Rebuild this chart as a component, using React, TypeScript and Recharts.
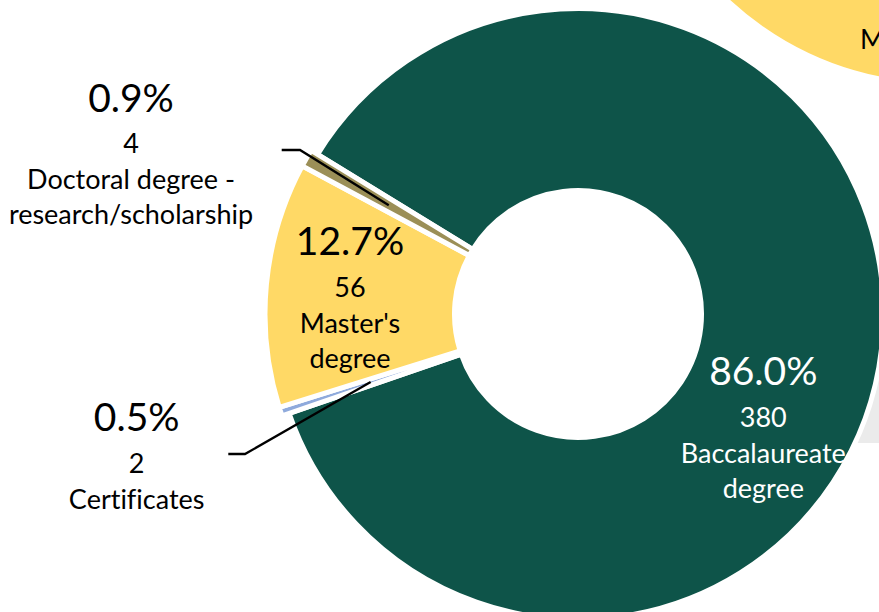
import React from "react";
import { PieChart, Pie, Cell } from "recharts";

// ---- data ----
const categories = [
  "Baccalaureate degree",
  "Certificates",
  "Master's degree",
  "Doctoral degree - research/scholarship",
];
const counts = [380, 2, 56, 4];
const nameLines = [
  ["Baccalaureate", "degree"],
  ["Certificates"],
  ["Master's", "degree"],
  ["Doctoral degree -", "research/scholarship"],
];
const colors = ["#0E5449", "#8FAADC", "#FFD966", "#9B8F57"];

// cropped neighbouring chart visible in the corner
const neighborCategories = ["Master's"];
const neighborCounts = [1];

const total = counts.reduce((a, b) => a + b, 0);
const data = categories.map((name, i) => ({
  name,
  value: counts[i],
  pct: ((counts[i] / total) * 100).toFixed(1) + "%",
  lines: nameLines[i],
}));
const neighborData = neighborCategories.map((name, i) => ({ name, value: neighborCounts[i] }));

// ---- layout ----
const W = 879;
const H = 612;
const CX = 578;
const CY = 314;
const INNER = 123.5;
const OUTER_MAIN = 305.5;
const OUTER_EXPL = 313;
const START = 148.5;
const FONT = "Lato, Carlito, Calibri, sans-serif";
const PCT_SIZE = 39;
const TXT_SIZE = 27;
const RAD = Math.PI / 180;
const textStyle: React.CSSProperties = { fontVariantLigatures: "none" };

// label anchor (baseline of percent line) relative to pie centre
const labelLayout = [
  { dx: 185.3, dy: 71, color: "#ffffff", leader: null as null | number[] },
  { dx: -441.3, dy: 117, color: "#000000", leader: [91.6, 23, 108.3, 23] },
  { dx: -228, dy: -59, color: "#000000", leader: null },
  { dx: -447, dy: -202.3, color: "#000000", leader: [150.7, 38.3, 169, 38.3] },
];

const renderLabel = (props: any) => {
  const { cx, cy, midAngle, innerRadius, outerRadius, index } = props;
  const lay = labelLayout[index];
  const d = data[index];
  if (!lay || !d) return null;
  const x = cx + lay.dx;
  const y = cy + lay.dy;
  let line = null;
  if (lay.leader) {
    const r = (innerRadius + outerRadius) / 2;
    const ex = cx + r * Math.cos(-midAngle * RAD);
    const ey = cy + r * Math.sin(-midAngle * RAD);
    const [sx, sy, kx, ky] = lay.leader;
    line = (
      <polyline
        points={`${x + sx},${y + sy} ${x + kx},${y + ky} ${ex},${ey}`}
        fill="none"
        stroke="#000"
        strokeWidth={2.3}
      />
    );
  }
  return (
    <g key={`lbl-${index}`}>
      {line}
      <text x={x} y={y} textAnchor="middle" fill={lay.color} fontFamily={FONT} fontSize={PCT_SIZE} style={textStyle}>
        {d.pct}
      </text>
      <text x={x} y={y + 41.5} textAnchor="middle" fill={lay.color} fontFamily={FONT} fontSize={TXT_SIZE} style={textStyle}>
        {String(d.value)}
      </text>
      {d.lines.map((t, j) => (
        <text
          key={j}
          x={x}
          y={y + 41.5 + 36 + j * 35}
          textAnchor="middle"
          fill={lay.color}
          fontFamily={FONT}
          fontSize={TXT_SIZE}
          style={textStyle}
        >
          {t}
        </text>
      ))}
    </g>
  );
};

const renderNeighborLabel = (props: any) => {
  const { cx, cy } = props;
  return (
    <text x={cx - 81} y={cy + 277} textAnchor="start" fill="#000" fontFamily={FONT} fontSize={TXT_SIZE} style={textStyle}>
      {neighborData[0].name}
    </text>
  );
};

export default function App() {
  return (
    <div
      style={{
        position: "absolute",
        left: 0,
        top: 0,
        width: W,
        height: H,
        background: "#ffffff",
        overflow: "hidden",
      }}
    >
      <div
        style={{
          position: "absolute",
          left: 846,
          top: 300,
          width: W - 846,
          height: 143,
          background: "#EBEBEB",
        }}
      />
      <div style={{ position: "absolute", left: 0, top: 0 }}>
        <PieChart width={W} height={H} margin={{ top: 0, right: 0, bottom: 0, left: 0 }}>
          <Pie
            data={neighborData}
            dataKey="value"
            cx={941}
            cy={-228}
            innerRadius={INNER}
            outerRadius={OUTER_EXPL}
            startAngle={280}
            endAngle={200}
            stroke="#ffffff"
            strokeWidth={5}
            fill="#FFD966"
            label={renderNeighborLabel}
            labelLine={false}
            isAnimationActive={false}
          />
          <Pie
            data={data}
            dataKey="value"
            cx={CX}
            cy={CY}
            innerRadius={INNER}
            outerRadius={OUTER_MAIN}
            startAngle={START}
            endAngle={START - 360}
            stroke="#ffffff"
            strokeWidth={5}
            labelLine={false}
            isAnimationActive={false}
          >
            {data.map((d, i) =>
              i === 0 ? (
                <Cell key={d.name} fill={colors[i]} stroke="#ffffff" />
              ) : (
                <Cell key={d.name} fill="transparent" stroke="none" />
              )
            )}
          </Pie>
          <Pie
            data={data}
            dataKey="value"
            cx={CX}
            cy={CY}
            innerRadius={INNER}
            outerRadius={OUTER_EXPL}
            startAngle={START}
            endAngle={START - 360}
            stroke="#ffffff"
            strokeWidth={5}
            label={renderLabel}
            labelLine={false}
            isAnimationActive={false}
          >
            {data.map((d, i) =>
              i === 0 ? (
                <Cell key={d.name} fill="transparent" stroke="none" />
              ) : (
                <Cell key={d.name} fill={colors[i]} stroke="#ffffff" />
              )
            )}
          </Pie>
        </PieChart>
      </div>
    </div>
  );
}
